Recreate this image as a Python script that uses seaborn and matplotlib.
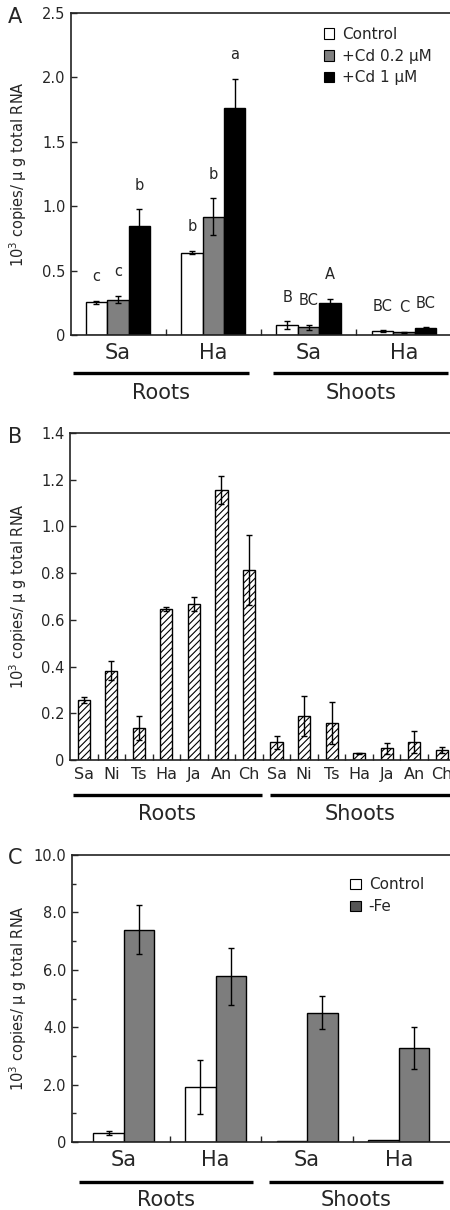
import numpy as np
import pandas as pd
import matplotlib
matplotlib.use('Agg')
import matplotlib.pyplot as plt
import matplotlib.transforms as mtransforms
from matplotlib.patches import Patch
import seaborn as sns

sns.set_style('ticks')
plt.rcParams['font.family'] = ['DejaVu Sans']
plt.rcParams['xtick.direction'] = 'in'
plt.rcParams['ytick.direction'] = 'in'
plt.rcParams['hatch.linewidth'] = 0.8
plt.rcParams['hatch.color'] = 'black'
plt.rcParams['axes.linewidth'] = 1.2
plt.rcParams['axes.edgecolor'] = '#222222'

# ---- panel A: Cd treatment ----
a_groups = ["Sa", "Ha", "Sa", "Ha"]
a_keys = ["Roots Sa", "Roots Ha", "Shoots Sa", "Shoots Ha"]
a_treat = ["Control", "+Cd 0.2 μM", "+Cd 1 μM"]
a_control = [0.255, 0.64, 0.076, 0.03]
a_cd02 = [0.275, 0.92, 0.06, 0.02]
a_cd1 = [0.845, 1.76, 0.246, 0.055]
a_control_err = [0.012, 0.012, 0.03, 0.005]
a_cd02_err = [0.03, 0.14, 0.02, 0.004]
a_cd1_err = [0.13, 0.23, 0.035, 0.005]
a_control_sig = ["c", "b", "B", "BC"]
a_cd02_sig = ["c", "b", "BC", "C"]
a_cd1_sig = ["b", "a", "A", "BC"]
a_yticks = [0, 0.5, 1.0, 1.5, 2.0, 2.5]
a_yticklabels = ["0", "0.5", "1.0", "1.5", "2.0", "2.5"]

# ---- panel B: species ----
b_species = ["Sa", "Ni", "Ts", "Ha", "Ja", "An", "Ch"]
b_roots = [0.257, 0.383, 0.138, 0.648, 0.668, 1.155, 0.815]
b_roots_err = [0.013, 0.042, 0.052, 0.008, 0.032, 0.06, 0.15]
b_shoots = [0.076, 0.19, 0.16, 0.028, 0.05, 0.078, 0.043]
b_shoots_err = [0.028, 0.086, 0.09, 0.003, 0.024, 0.048, 0.012]
b_yticks = [0, 0.2, 0.4, 0.6, 0.8, 1.0, 1.2, 1.4]
b_yticklabels = ["0", "0.2", "0.4", "0.6", "0.8", "1.0", "1.2", "1.4"]

# ---- panel C: Fe deficiency ----
c_treat = ["Control", "-Fe"]
c_control = [0.3, 1.92, 0.04, 0.08]
c_fe = [7.4, 5.77, 4.51, 3.27]
c_control_err = [0.07, 0.93, 0.0, 0.0]
c_fe_err = [0.85, 1.0, 0.57, 0.72]
c_yticks = [0, 2, 4, 6, 8, 10]
c_yticklabels = ["0", "2.0", "4.0", "6.0", "8.0", "10.0"]

ylabel_text = "10$^{3}$ copies/ μ g total RNA"

fig = plt.figure(figsize=(4.5, 12.1), dpi=100)
axA = fig.add_axes([71 / 450, (1210 - 335) / 1210, 379 / 450, 322 / 1210])
axB = fig.add_axes([70 / 450, (1210 - 760) / 1210, 380 / 450, 327 / 1210])
axC = fig.add_axes([72 / 450, (1210 - 1142) / 1210, 378 / 450, 287 / 1210])


def style_axis(ax, yticks, yticklabels, ymax):
    ax.set_ylim(0, ymax)
    ax.set_yticks(yticks)
    ax.set_yticklabels(yticklabels, fontsize=10.5)
    ax.tick_params(axis='y', length=4, width=1, pad=4)
    ax.spines['right'].set_visible(False)
    ax.set_xlabel('')
    ax.set_ylabel(ylabel_text, fontsize=10.5, va='center')
    # label centre about 18 px from the figure edge
    ax.yaxis.set_label_coords(-(ax.bbox.x0 - 18) / ax.bbox.width, 0.5)


def add_errors(ax, containers, errs):
    for cont, err in zip(containers, errs):
        for bar, e in zip(cont, err):
            if e <= 0:
                continue
            x = bar.get_x() + bar.get_width() / 2
            ax.errorbar(x, bar.get_height(), yerr=e, fmt='none', ecolor='black',
                        elinewidth=1, capsize=2.5, capthick=1, zorder=5)


def under_groups(ax, spans, labels, line_px, text_px):
    trans = mtransforms.blended_transform_factory(ax.transData, ax.transAxes)
    h = ax.bbox.height
    for (x0, x1), lab in zip(spans, labels):
        ax.plot([x0, x1], [-line_px / h] * 2, transform=trans, color='black',
                lw=2.4, clip_on=False, solid_capstyle='butt')
        ax.text((x0 + x1) / 2, -text_px / h, lab, transform=trans,
                ha='center', va='center', fontsize=15)


# panel A
dfA = pd.DataFrame({
    'group': a_keys * 3,
    'treatment': np.repeat(a_treat, len(a_keys)),
    'value': a_control + a_cd02 + a_cd1,
})
sns.barplot(data=dfA, x='group', y='value', hue='treatment', order=a_keys,
            hue_order=a_treat, palette=['white', '#808080', 'black'],
            edgecolor='black', linewidth=1, width=0.675, errorbar=None,
            legend=False, ax=axA)
add_errors(axA, axA.containers, [a_control_err, a_cd02_err, a_cd1_err])
for cont, err, sig in zip(axA.containers, [a_control_err, a_cd02_err, a_cd1_err],
                          [a_control_sig, a_cd02_sig, a_cd1_sig]):
    for bar, e, s in zip(cont, err, sig):
        x = bar.get_x() + bar.get_width() / 2
        axA.annotate(s, (x, bar.get_height() + e), xytext=(0, 12),
                     textcoords='offset points', ha='center', va='bottom', fontsize=10.5)
style_axis(axA, a_yticks, a_yticklabels, 2.5)
axA.set_xlim(-0.49, 3.48)
axA.set_xticks(range(4))
axA.set_xticklabels(a_groups, fontsize=15)
axA.tick_params(axis='x', which='major', length=0, pad=6)
axA.set_xticks([0.5, 1.5, 2.5], minor=True)
axA.tick_params(axis='x', which='minor', length=4, width=1)
axA.legend(handles=[Patch(facecolor=c, edgecolor='black', linewidth=0.8)
                    for c in ['white', '#808080', 'black']],
           labels=a_treat, loc='upper left', bbox_to_anchor=(0.63, 1.0),
           frameon=False, fontsize=11, handlelength=0.7, handleheight=0.7,
           handletextpad=0.5, labelspacing=0.45)
under_groups(axA, [(-0.47, 1.37), (1.63, 3.46)], ["Roots", "Shoots"], 38, 58)

# panel B
b_keys = ["Roots " + s for s in b_species] + ["Shoots " + s for s in b_species]
dfB = pd.DataFrame({'group': b_keys, 'value': b_roots + b_shoots})
sns.barplot(data=dfB, x='group', y='value', order=b_keys, color='white',
            edgecolor='black', linewidth=1, width=0.44, errorbar=None, ax=axB)
for bar in axB.patches:
    bar.set_hatch('/////')
add_errors(axB, axB.containers, [b_roots_err + b_shoots_err])
style_axis(axB, b_yticks, b_yticklabels, 1.4)
axB.set_xlim(-0.5, 13.3)
axB.set_xticks(range(14))
axB.set_xticklabels(b_species + b_species, fontsize=11.5)
axB.tick_params(axis='x', which='major', length=0, pad=5)
axB.set_xticks(np.arange(0.5, 13, 1.0), minor=True)
axB.tick_params(axis='x', which='minor', length=4, width=1)
under_groups(axB, [(-0.4, 6.47), (6.76, 13.3)], ["Roots", "Shoots"], 35, 54)

# panel C
dfC = pd.DataFrame({
    'group': a_keys * 2,
    'treatment': np.repeat(c_treat, len(a_keys)),
    'value': c_control + c_fe,
})
sns.barplot(data=dfC, x='group', y='value', hue='treatment', order=a_keys,
            hue_order=c_treat, palette=['white', '#7d7d7d'], edgecolor='black',
            linewidth=1, width=0.667, errorbar=None, legend=False, ax=axC)
add_errors(axC, axC.containers, [c_control_err, c_fe_err])
style_axis(axC, c_yticks, c_yticklabels, 10)
axC.set_yticks([1, 3, 5, 7, 9], minor=True)
axC.tick_params(axis='y', which='minor', length=3, width=1)
axC.set_xlim(-0.567, 3.56)
axC.set_xticks(range(4))
axC.set_xticklabels(a_groups, fontsize=15)
axC.tick_params(axis='x', which='major', length=0, pad=6)
axC.set_xticks([0.5, 1.5, 2.5], minor=True)
axC.tick_params(axis='x', which='minor', length=4, width=1)
axC.legend(handles=[Patch(facecolor=c, edgecolor='black', linewidth=0.8)
                    for c in ['white', '#555555']],
           labels=c_treat, loc='upper left', bbox_to_anchor=(0.7, 0.97),
           frameon=False, fontsize=11, handlelength=0.7, handleheight=0.7,
           handletextpad=0.5, labelspacing=0.45)
under_groups(axC, [(-0.49, 1.41), (1.58, 3.48)], ["Roots", "Shoots"], 40, 58)

for lab, y in zip(["A", "B", "C"], [17, 437, 858]):
    fig.text(15 / 450, 1 - y / 1210, lab, fontsize=15, ha='center', va='center')

fig.savefig('out.png', dpi=100)
